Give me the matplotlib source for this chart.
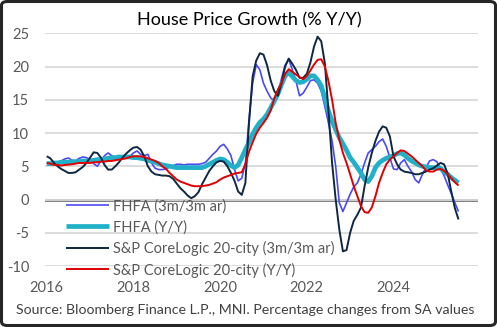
import matplotlib
matplotlib.use("Agg")
import matplotlib.pyplot as plt
from matplotlib.patches import FancyBboxPatch
import numpy as np

plt.rcParams['font.family'] = ['Lato', 'DejaVu Sans']

start_year = 2016
year_ticks = [2016, 2018, 2020, 2022, 2024]
y_ticks = [-10, -5, 0, 5, 10, 15, 20, 25]

fhfa_3m = [5.5, 5.4, 5.4, 5.6, 5.8, 6.1, 6.25, 5.9, 5.8, 6.2, 6.4, 6.3,
           6.0, 5.4, 5.0, 5.8, 6.6, 7.0, 6.6, 6.3, 6.2, 6.3, 6.4, 6.5,
           7.0, 7.3, 6.8, 6.6, 6.8, 5.5, 4.7, 4.5, 4.5, 4.6, 4.9, 5.1,
           5.3, 5.3, 5.2, 5.3, 5.3, 5.3, 5.3, 5.4, 5.6, 6.2, 6.8, 7.3,
           8.0, 8.3, 7.6, 6.6, 4.5, 2.8, 3.2, 5.5, 12.0, 17.5, 20.3, 19.5,
           17.5, 16.3, 15.3, 14.8, 15.8, 18.2, 20.2, 21.1, 19.5, 17.8, 15.6, 16.0,
           16.9, 17.9, 18.0, 17.5, 16.3, 14.0, 11.5, 8.8, 5.0, -0.5, -1.8, -0.5,
           0.8, 1.9, 2.5, 3.8, 5.5, 7.0, 7.5, 8.0, 8.7, 9.1, 8.0, 6.3,
           4.6, 4.5, 5.5, 6.0, 5.0, 4.2, 3.0, 2.5, 3.8, 4.8, 5.8, 6.0,
           5.7, 4.6, 3.6, 2.2, 0.9, -0.5, -1.8]

fhfa_yy = [5.4, 5.4, 5.5, 5.5, 5.6, 5.6, 5.6, 5.7, 5.7, 5.7, 5.8, 5.8,
           5.8, 5.9, 6.0, 6.0, 6.1, 6.2, 6.3, 6.3, 6.4, 6.4, 6.4, 6.4,
           6.3, 6.3, 6.2, 6.1, 5.9, 5.75, 5.6, 5.4, 5.2, 5.1, 5.0, 4.9,
           4.8, 4.8, 4.8, 4.8, 4.8, 4.8, 4.8, 4.8, 5.0, 5.3, 5.6, 5.9,
           6.1, 6.0, 5.6, 5.1, 4.8, 5.2, 6.3, 7.5, 8.6, 9.8, 10.8, 11.6,
           12.1, 12.8, 13.8, 14.8, 15.9, 17.3, 18.6, 19.1, 18.5, 17.9, 17.6, 17.7,
           18.1, 18.6, 18.6, 18.0, 17.1, 15.3, 13.3, 11.8, 10.5, 9.3, 8.4, 7.4,
           6.3, 5.6, 4.8, 4.0, 3.0, 2.7, 3.5, 4.8, 5.5, 5.9, 6.2, 6.4,
           6.6, 6.9, 7.0, 6.7, 6.2, 5.8, 5.5, 5.2, 5.0, 4.9, 4.8, 4.8,
           4.75, 4.7, 4.2, 3.8, 3.3, 2.9, 2.5]

cs_3m = [6.5, 6.2, 5.5, 5.0, 4.6, 4.3, 4.0, 4.0, 4.1, 4.5, 4.9, 5.5,
         6.3, 7.1, 7.0, 6.3, 5.2, 4.5, 4.5, 5.0, 5.6, 6.3, 6.9, 7.4,
         7.8, 7.9, 7.5, 6.5, 5.0, 4.2, 3.8, 3.7, 3.6, 3.6, 3.5, 3.1,
         2.4, 1.7, 1.2, 0.6, 0.2, 0.5, 1.1, 2.3, 3.3, 4.3, 5.0, 5.6,
         5.8, 5.7, 5.0, 4.0, 2.8, 1.2, 0.7, 2.5, 11.5, 18.5, 20.9, 22.0,
         21.8, 20.2, 17.9, 16.3, 15.6, 17.5, 20.0, 21.2, 20.4, 19.5, 18.3, 18.3,
         18.9, 20.6, 23.0, 24.5, 23.8, 20.5, 13.3, 5.5, 0.0, -4.5, -7.8, -7.6,
         -5.0, -3.2, -2.3, -1.2, 2.0, 4.8, 7.0, 8.8, 10.2, 11.0, 10.8, 9.5,
         6.5, 5.3, 4.5, 4.2, 4.1, 4.0, 3.8, 3.8, 4.0, 4.2, 4.5, 4.7,
         5.1, 5.5, 5.3, 3.9, 1.2, -1.3, -3.0]

cs_yy = [5.5, 5.4, 5.2, 5.2, 5.1, 5.2, 5.25, 5.3, 5.4, 5.5, 5.5, 5.5,
         5.5, 5.6, 5.6, 5.7, 5.7, 5.8, 5.8, 5.9, 6.0, 6.1, 6.2, 6.4,
         6.5, 6.5, 6.5, 6.4, 6.2, 6.0, 5.8, 5.5, 5.0, 4.6, 4.0, 3.5,
         3.0, 2.7, 2.5, 2.3, 2.1, 2.0, 2.0, 2.0, 2.1, 2.2, 2.4, 2.6,
         3.0, 3.3, 3.5, 3.7, 3.9, 4.0, 4.1, 5.3, 7.2, 8.6, 9.9, 10.8,
         11.5, 12.3, 13.4, 15.2, 16.5, 17.5, 18.9, 19.6, 19.2, 18.8, 18.4, 18.1,
         18.6, 19.4, 20.3, 21.0, 21.1, 20.0, 17.8, 15.0, 11.5, 9.0, 7.0, 5.5,
         3.8, 2.0, 0.5, -1.0, -1.9, -2.0, -1.2, 0.5, 2.5, 4.0, 5.3, 6.0,
         6.5, 7.0, 7.4, 7.3, 6.9, 6.5, 6.0, 5.5, 5.0, 4.4, 4.2, 4.2,
         4.5, 4.6, 4.3, 3.8, 3.2, 2.6, 2.1]

labels = ["FHFA (3m/3m ar)", "FHFA (Y/Y)",
          "S&P CoreLogic 20-city (3m/3m ar)", "S&P CoreLogic 20-city (Y/Y)"]
colors = ["#4A4AF4", "#20B0C8", "#0E2841", "#E00000"]
widths = [1.2, 3.4, 1.4, 1.4]

W, H = 497, 327
fig = plt.figure(figsize=(W / 100, H / 100), dpi=100)
ax = fig.add_axes([45 / W, 1 - 266 / H, (478 - 45) / W, (266 - 33.3) / H])

x = start_year + np.arange(len(fhfa_3m)) / 12.0
series = [fhfa_3m, fhfa_yy, cs_3m, cs_yy]
for s, lab, c, lw in zip(series, labels, colors, widths):
    ax.plot(x, s, color=c, lw=lw, label=lab, solid_capstyle='butt', zorder=3)

ax.set_ylim(-10, 25)
ax.set_xlim(2015.96, 2025.95)
ax.set_yticks(y_ticks)
ax.set_xticks(year_ticks)
ax.set_xticklabels([str(t) for t in year_ticks])
ax.set_yticklabels([str(t) for t in y_ticks])
ax.grid(axis='y', color='#D9D9D9', lw=1.3, zorder=0)
ax.axhline(0, color='#595959', lw=1.8, zorder=1)
for sp in ax.spines.values():
    sp.set_visible(False)
ax.tick_params(axis='both', length=0, labelsize=10.5, labelcolor='#595959')
ax.tick_params(axis='y', pad=11.5)
ax.tick_params(axis='x', pad=11)

leg = ax.legend(loc='upper left', bbox_to_anchor=(66 / W, 1 - 199 / H),
                bbox_transform=fig.transFigure, frameon=False,
                fontsize=10.5, labelcolor='#595959', handlelength=2.95,
                handletextpad=0.3, labelspacing=0.45, borderaxespad=0,
                borderpad=0)

fig.text(249 / W, 1 - 20 / H, "House Price Growth (% Y/Y)", ha='center',
         va='center', fontsize=13, color='#000000')
fig.text(16 / W, 1 - 310 / H,
         "Source: Bloomberg Finance L.P., MNI. Percentage changes from SA values",
         ha='left', va='center', fontsize=10.2, color='#404040')

border = FancyBboxPatch((1.5 / W, 1.5 / H), (W - 3) / W, (H - 3) / H,
                        boxstyle="round,pad=0,rounding_size=0.012",
                        transform=fig.transFigure, fill=False,
                        ec='#262626', lw=2.2)
fig.patches.append(border)

fig.savefig("out.png", dpi=100)
